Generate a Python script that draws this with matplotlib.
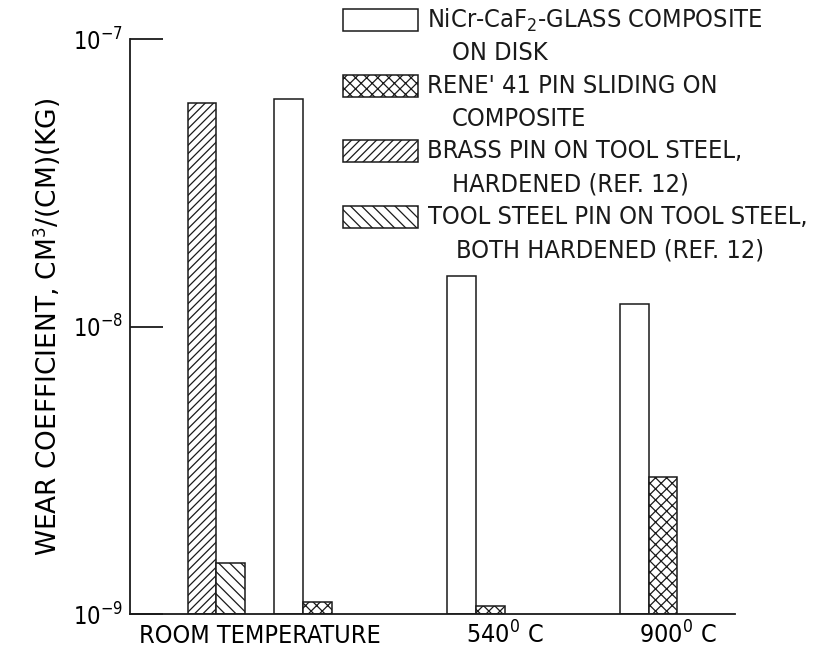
import numpy as np
import matplotlib
matplotlib.use("Agg")
import matplotlib.pyplot as plt
from matplotlib.patches import Rectangle

plt.rcParams['font.family'] = ['DejaVu Sans']
plt.rcParams['font.stretch'] = 'condensed'
plt.rcParams['hatch.linewidth'] = 0.9
plt.rcParams['text.color'] = '#1a1a1a'

# wear coefficients, cm^3/(cm)(kg)
conditions = ['ROOM TEMPERATURE', '540$^0$ C', '900$^0$ C']
composite_disk = [6.2e-8, 1.5e-8, 1.2e-8]
rene_pin = [1.1e-9, 1.07e-9, 3.0e-9]
brass_pin_rt = 6.0e-8
tool_steel_pin_rt = 1.5e-9

legend_labels = [
    ('NiCr-CaF$_2$-GLASS COMPOSITE', 'ON DISK'),
    ("RENE' 41 PIN SLIDING ON", 'COMPOSITE'),
    ('BRASS PIN ON TOOL STEEL,', 'HARDENED (REF. 12)'),
    ('TOOL STEEL PIN ON TOOL STEEL,', 'BOTH HARDENED (REF. 12)'),
]
hatches = ['', 'xxx', '////', '\\\\\\']

ymin, ymax = 1e-9, 1e-7
W, H = 814, 652

fig = plt.figure(figsize=(W / 100, H / 100), dpi=100)
ax = fig.add_axes([130 / W, 1 - 614 / H, 605 / W, 575 / H])
ax.set_yscale('log')

pos = np.arange(len(conditions)) * 6.0
bar_kw = dict(width=1.0, align='edge', bottom=ymin, facecolor='white',
              edgecolor='#1a1a1a', linewidth=1.1)

ax.bar(pos - 1, np.array(composite_disk) - ymin, hatch=hatches[0], **bar_kw)
ax.bar(pos, np.array(rene_pin) - ymin, hatch=hatches[1], **bar_kw)
ax.bar(pos[0] - 4, brass_pin_rt - ymin, hatch=hatches[2], **bar_kw)
ax.bar(pos[0] - 3, tool_steel_pin_rt - ymin, hatch=hatches[3], **bar_kw)

ax.set_xlim(-6, 15)
ax.set_ylim(ymin, ymax)

for s in ['top', 'right']:
    ax.spines[s].set_visible(False)
for s in ['left', 'bottom']:
    ax.spines[s].set_linewidth(1.3)
    ax.spines[s].set_color('#1a1a1a')

ax.set_yticks([1e-9, 1e-8, 1e-7])
ax.set_yticklabels([r'$\mathregular{10^{-9}}$', r'$\mathregular{10^{-8}}$',
                    r'$\mathregular{10^{-7}}$'], fontsize=17)
ax.yaxis.set_minor_locator(matplotlib.ticker.NullLocator())
ax.tick_params(axis='y', direction='in', length=24, width=1.3, pad=5,
               color='#1a1a1a')

# baseline-aligned category labels so the superscripts don't push them down
ax.set_xticks([pos[0] - 1.5, pos[1] + 1, pos[2] + 1])
ax.set_xticklabels(conditions, fontsize=18, va='baseline')
ax.tick_params(axis='x', length=0, pad=21)

ax.set_ylabel('WEAR COEFFICIENT, CM$^3$/(CM)(KG)', fontsize=19,
              fontstretch='normal')
ax.yaxis.set_label_coords(-0.11, 0.5)

# legend drawn by hand: hatched swatch plus two-line text
for i, ((line1, line2), h) in enumerate(zip(legend_labels, hatches)):
    top = 9 + 65.7 * i
    fig.add_artist(Rectangle((343 / W, 1 - (top + 22) / H), 75 / W, 22 / H,
                             transform=fig.transFigure, facecolor='white',
                             edgecolor='#1a1a1a', linewidth=1.1, hatch=h))
    x1 = 427 if i < 3 else 428
    x2 = 452 if i < 3 else 456
    fig.text(x1 / W, 1 - (top + 11) / H, line1, fontsize=18.2, va='center', ha='left')
    fig.text(x2 / W, 1 - (top + 44) / H, line2, fontsize=18.2, va='center', ha='left')

fig.savefig('out.png', dpi=100)
